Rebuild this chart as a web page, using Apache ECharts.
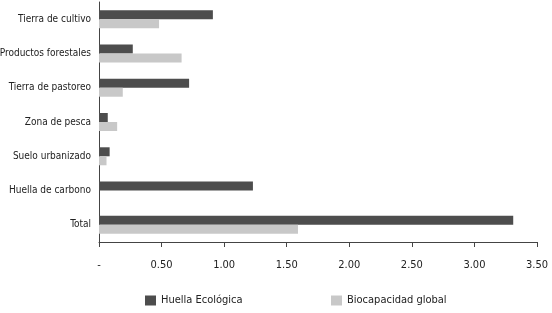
<!DOCTYPE html>
<html>
<head>
<meta charset="utf-8">
<script src="https://cdn.jsdelivr.net/npm/echarts@6/dist/echarts.min.js"></script>
<style>
  html, body { margin: 0; padding: 0; background: #fff; }
  #main { width: 552px; height: 313px; }
</style>
</head>
<body>
<div id="main"></div>
<script>
var categories = ['Tierra de cultivo', 'Productos forestales', 'Tierra de pastoreo', 'Zona de pesca', 'Suelo urbanizado', 'Huella de carbono', 'Total']
var huella = [0.91, 0.27, 0.72, 0.07, 0.085, 1.23, 3.31]
var biocapacidad = [0.48, 0.66, 0.19, 0.145, 0.06, 0, 1.59]
var seriesNames = ['Huella Ecológica', 'Biocapacidad global']

var font = '"DejaVu Sans Condensed", sans-serif'
var chart = echarts.init(document.getElementById('main'))

var legendText = { fontFamily: font, fontSize: 11, color: '#222' }

var option = {
  animation: false,
  color: ['#4d4d4d', '#c8c8c8'],
  textStyle: { fontFamily: font },
  grid: { left: 99, right: 15, top: 2, bottom: 71, containLabel: false, outerBoundsMode: 'none' },
  legend: [
    {
      top: 290, left: 140, itemWidth: 11, itemHeight: 10, itemGap: 8, icon: 'rect',
      textStyle: legendText, data: [seriesNames[0]]
    },
    {
      top: 290, left: 326, itemWidth: 11, itemHeight: 10, itemGap: 8, icon: 'rect',
      textStyle: legendText, data: [seriesNames[1]]
    }
  ],
  xAxis: {
    type: 'value',
    min: 0,
    max: 3.5,
    interval: 0.5,
    splitLine: { show: false },
    axisLine: { show: true, lineStyle: { color: '#444', width: 1 } },
    axisTick: { show: true, inside: false, length: 5, lineStyle: { color: '#444' } },
    axisLabel: {
      margin: 18,
      fontSize: 11,
      color: '#222',
      fontFamily: font,
      formatter: function(v) {
        return v === 0 ? '-' : v.toFixed(2)
      }
    }
  },
  yAxis: {
    type: 'category',
    inverse: true,
    data: categories,
    axisLine: { show: true, lineStyle: { color: '#444', width: 1 } },
    axisTick: { show: false },
    axisLabel: { margin: 8, fontSize: 10, color: '#222', fontFamily: font }
  },
  series: [
    { name: seriesNames[0], type: 'bar', data: huella, barWidth: 9, barGap: '0%' },
    { name: seriesNames[1], type: 'bar', data: biocapacidad, barWidth: 9, barGap: '0%' }
  ]
}

chart.setOption(option)
</script>
</body>
</html>
